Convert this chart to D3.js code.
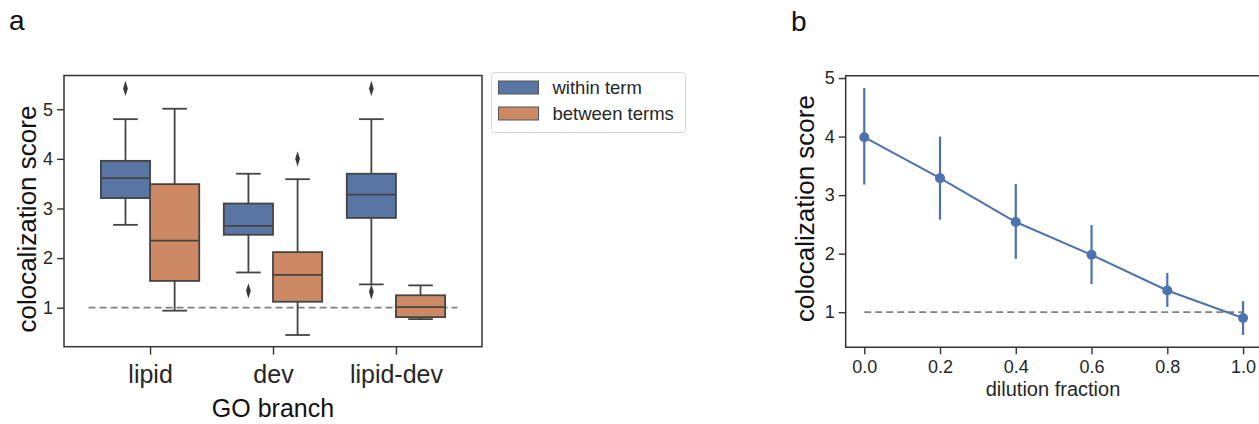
<!DOCTYPE html>
<html>
<head>
<meta charset="utf-8">
<script src="https://cdn.jsdelivr.net/npm/d3@7"></script>
<style>
  body { margin: 0; background: #fff; }
  svg { display: block; font-family: "Liberation Sans", Arial, sans-serif; }
</style>
</head>
<body>
<svg width="1259" height="424"></svg>
<script>
// panel a data
const branches = ["lipid", "dev", "lipid-dev"];
const groups = ["within term", "between terms"];
const groupColors = ["#5875a4", "#cc8963"];
// [whiskerLow, q1, median, q3, whiskerHigh]
const withinStats = [
  [2.67, 3.21, 3.61, 3.96, 4.80],
  [1.71, 2.47, 2.65, 3.10, 3.70],
  [1.47, 2.81, 3.28, 3.70, 4.80]
];
const betweenStats = [
  [0.94, 1.54, 2.35, 3.49, 5.01],
  [0.45, 1.12, 1.66, 2.12, 3.59],
  [0.77, 0.81, 1.01, 1.25, 1.45]
];
const withinOutliers = [[5.42], [1.34], [5.42, 1.32]];
const betweenOutliers = [[], [4.00], []];
const yTicksA = [1, 2, 3, 4, 5];

// panel b data
const dilution = [0.0, 0.2, 0.4, 0.6, 0.8, 1.0];
const scoreMean = [3.99, 3.29, 2.54, 1.98, 1.37, 0.90];
const scoreLow = [3.18, 2.58, 1.91, 1.48, 1.09, 0.61];
const scoreHigh = [4.83, 4.00, 3.19, 2.49, 1.67, 1.19];
const xTicksB = [0.0, 0.2, 0.4, 0.6, 0.8, 1.0];
const yTicksB = [1, 2, 3, 4, 5];

const svg = d3.select("svg");
const ink = "#333333";
const edge = "#444444";

// panel letters
svg.append("text").attr("x", 9).attr("y", 30).attr("font-size", 28).attr("fill", "#111").text("a");
svg.append("text").attr("x", 791).attr("y", 31).attr("font-size", 28).attr("fill", "#111").text("b");

// ---------- panel a ----------
const a = { left: 64, right: 482, top: 75.5, bottom: 346.7 };
const xA = d3.scaleLinear().domain([-0.7, 2.7]).range([a.left, a.right]);
const yA = d3.scaleLinear().domain([0.214, 5.68]).range([a.bottom, a.top]);
const gA = svg.append("g");

const step = xA(1) - xA(0);
const boxW = step * 0.8 / 2;

// reference line
gA.append("line")
  .attr("x1", xA(-0.5)).attr("x2", xA(2.5))
  .attr("y1", yA(1)).attr("y2", yA(1))
  .attr("stroke", "#808080").attr("stroke-width", 1.8).attr("stroke-dasharray", "7,4");

const allStats = [withinStats, betweenStats];
const allOut = [withinOutliers, betweenOutliers];

allStats.forEach((stats, gi) => {
  stats.forEach((s, ci) => {
    const x0 = xA(ci) - step * 0.4 + gi * boxW;
    const cx = x0 + boxW / 2;
    const g = gA.append("g");
    // whiskers
    g.append("line").attr("x1", cx).attr("x2", cx).attr("y1", yA(s[0])).attr("y2", yA(s[1]))
      .attr("stroke", edge).attr("stroke-width", 1.8);
    g.append("line").attr("x1", cx).attr("x2", cx).attr("y1", yA(s[3])).attr("y2", yA(s[4]))
      .attr("stroke", edge).attr("stroke-width", 1.8);
    // caps
    [s[0], s[4]].forEach(v => {
      g.append("line").attr("x1", cx - boxW / 4).attr("x2", cx + boxW / 4)
        .attr("y1", yA(v)).attr("y2", yA(v))
        .attr("stroke", edge).attr("stroke-width", 1.8);
    });
    // box
    g.append("rect")
      .attr("x", x0).attr("width", boxW)
      .attr("y", yA(s[3])).attr("height", yA(s[1]) - yA(s[3]))
      .attr("fill", groupColors[gi]).attr("stroke", edge).attr("stroke-width", 1.8);
    // median
    g.append("line").attr("x1", x0).attr("x2", x0 + boxW)
      .attr("y1", yA(s[2])).attr("y2", yA(s[2]))
      .attr("stroke", edge).attr("stroke-width", 1.8);
    // outliers
    allOut[gi][ci].forEach(v => {
      g.append("path")
        .attr("d", d3.symbol(d3.symbolDiamond, 40)())
        .attr("transform", `translate(${cx},${yA(v)}) scale(0.7,1.3)`)
        .attr("fill", "#3a3a3a");
    });
  });
});

// axes a
const yAxisA = gA.append("g").attr("transform", `translate(${a.left},0)`)
  .call(d3.axisLeft(yA).tickValues(yTicksA).tickSize(7).tickPadding(4).tickFormat(d3.format("d")));
const xAxisA = gA.append("g").attr("transform", `translate(0,${a.bottom})`)
  .call(d3.axisBottom(xA).tickValues([0, 1, 2]).tickSize(8).tickPadding(6).tickFormat(i => branches[i]));
[yAxisA, xAxisA].forEach(ax => {
  ax.select(".domain").remove();
  ax.selectAll(".tick line").attr("stroke", ink).attr("stroke-width", 1.4);
  ax.selectAll(".tick text").attr("fill", "#262626").attr("font-family", "Liberation Sans, Arial, sans-serif");
});
yAxisA.selectAll(".tick text").attr("font-size", 18);
xAxisA.selectAll(".tick text").attr("font-size", 25).attr("dy", "0.9em");

gA.append("rect")
  .attr("x", a.left).attr("y", a.top)
  .attr("width", a.right - a.left).attr("height", a.bottom - a.top)
  .attr("fill", "none").attr("stroke", ink).attr("stroke-width", 1.5);

gA.append("text")
  .attr("transform", `translate(36,${(a.top + a.bottom) / 2 + 8}) rotate(-90)`)
  .attr("text-anchor", "middle").attr("font-size", 26).attr("fill", "#111")
  .text("colocalization score");
gA.append("text")
  .attr("x", xA(1)).attr("y", 417)
  .attr("text-anchor", "middle").attr("font-size", 25).attr("fill", "#111")
  .text("GO branch");

// legend
const leg = svg.append("g").attr("transform", "translate(491.5,72.5)");
leg.append("rect").attr("width", 194).attr("height", 60).attr("rx", 3)
  .attr("fill", "#fff").attr("stroke", "#d6d6d6").attr("stroke-width", 1);
groups.forEach((name, i) => {
  leg.append("rect").attr("x", 7).attr("y", 8.5 + i * 26).attr("width", 40).attr("height", 13)
    .attr("fill", groupColors[i]).attr("stroke", "#555").attr("stroke-width", 1);
  leg.append("text").attr("x", 61).attr("y", 15 + i * 26).attr("dy", "0.36em")
    .attr("font-size", 18.5).attr("fill", "#262626").text(name);
});

// ---------- panel b ----------
const b = { left: 845.7, right: 1262, top: 75.7, bottom: 347.3 };
const xB = d3.scaleLinear().domain([-0.049, 1.05]).range([b.left, b.right]);
const yB = d3.scaleLinear().domain([0.40, 5.04]).range([b.bottom, b.top]);
const gB = svg.append("g");

gB.append("line")
  .attr("x1", xB(0)).attr("x2", xB(1))
  .attr("y1", yB(1)).attr("y2", yB(1))
  .attr("stroke", "#808080").attr("stroke-width", 1.8).attr("stroke-dasharray", "7,4");

const blue = "#4c72b0";
dilution.forEach((d, i) => {
  gB.append("line").attr("x1", xB(d)).attr("x2", xB(d))
    .attr("y1", yB(scoreLow[i])).attr("y2", yB(scoreHigh[i]))
    .attr("stroke", blue).attr("stroke-width", 2.2);
});
gB.append("path")
  .datum(dilution.map((d, i) => [d, scoreMean[i]]))
  .attr("d", d3.line().x(p => xB(p[0])).y(p => yB(p[1])))
  .attr("fill", "none").attr("stroke", blue).attr("stroke-width", 2);
gB.selectAll("circle.pt").data(dilution).join("circle")
  .attr("class", "pt")
  .attr("cx", d => xB(d)).attr("cy", (d, i) => yB(scoreMean[i]))
  .attr("r", 5).attr("fill", blue);

const yAxisB = gB.append("g").attr("transform", `translate(${b.left},0)`)
  .call(d3.axisLeft(yB).tickValues(yTicksB).tickSize(7).tickPadding(4).tickFormat(d3.format("d")));
const xAxisB = gB.append("g").attr("transform", `translate(0,${b.bottom})`)
  .call(d3.axisBottom(xB).tickValues(xTicksB).tickSize(7).tickPadding(6).tickFormat(d3.format(".1f")));
[yAxisB, xAxisB].forEach(ax => {
  ax.select(".domain").remove();
  ax.selectAll(".tick line").attr("stroke", ink).attr("stroke-width", 1.4);
  ax.selectAll(".tick text").attr("fill", "#262626").attr("font-size", 18)
    .attr("font-family", "Liberation Sans, Arial, sans-serif");
});

gB.append("path")
  .attr("d", `M${b.right},${b.top}H${b.left}V${b.bottom}H${b.right}`)
  .attr("fill", "none").attr("stroke", ink).attr("stroke-width", 1.5);

gB.append("text")
  .attr("transform", `translate(814,${(b.top + b.bottom) / 2 - 3}) rotate(-90)`)
  .attr("text-anchor", "middle").attr("font-size", 26).attr("fill", "#111")
  .text("colocalization score");
gB.append("text")
  .attr("x", 1053).attr("y", 396)
  .attr("text-anchor", "middle").attr("font-size", 20).attr("fill", "#262626")
  .text("dilution fraction");
</script>
</body>
</html>
